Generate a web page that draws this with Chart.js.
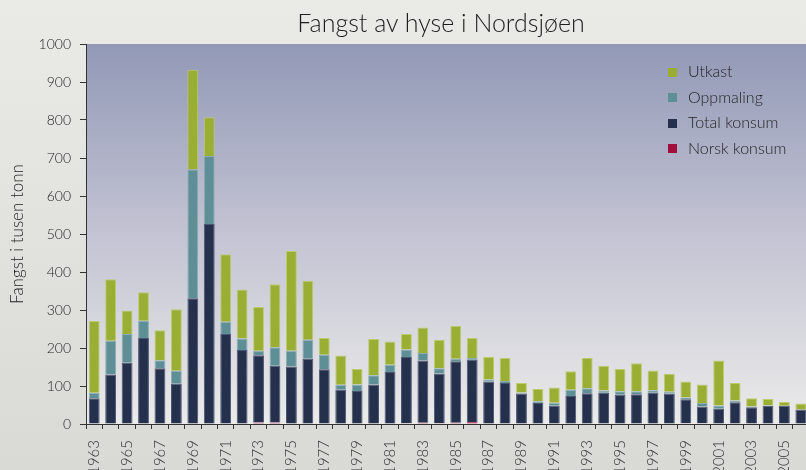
<!DOCTYPE html>
<html>
<head>
<meta charset="utf-8">
<script src="https://cdn.jsdelivr.net/npm/chart.js@4"></script>
<style>
  html, body { margin: 0; padding: 0; overflow: hidden; }
  body { width: 806px; height: 470px; background: linear-gradient(#eaeae6, #d9d9d5); font-family: Lato, "Open Sans", sans-serif; }
  #wrap { position: relative; width: 830px; height: 470px; }
  #title { position: absolute; left: 0; width: 882px; top: 7px; text-align: center; font-size: 25px; font-weight: 300; color: #1e1e1e; }
  #legend { position: absolute; left: 668px; top: 58px; font-size: 16px; font-weight: 300; color: #222; }
  #legend div { height: 25.5px; display: flex; align-items: center; }
  #legend span.box { display: inline-block; width: 9px; height: 9px; margin-right: 11px; margin-top: 3px; }
</style>
</head>
<body>
<div id="wrap">
  <canvas id="chart"></canvas>
  <div id="title">Fangst av hyse i Nordsjøen</div>
  <div id="legend"></div>
</div>
<script>
// Catch of haddock in the North Sea, thousand tonnes
const years = [1963, 1964, 1965, 1966, 1967, 1968, 1969, 1970, 1971, 1972, 1973, 1974, 1975, 1976, 1977,
    1978, 1979, 1980, 1981, 1982, 1983, 1984, 1985, 1986, 1987, 1988, 1989, 1990, 1991, 1992, 1993,
    1994, 1995, 1996, 1997, 1998, 1999, 2000, 2001, 2002, 2003, 2004, 2005, 2006];

const norskKonsum = [0, 0, 0, 0, 0, 0, 0, 0, 0, 0, 4, 4, 0, 0, 0,
    0, 0, 1, 1, 2, 3, 2, 3, 5, 1, 1, 0, 0, 0, 0, 0,
    0, 0, 0, 0, 1, 2, 2, 0, 0, 0, 0, 0, 0];

const totalKonsum = [68, 130, 161, 226, 147, 106, 331, 526, 237, 195, 177, 149, 151, 172, 144,
    90, 87, 103, 136, 174, 164, 131, 162, 164, 110, 107, 80, 55, 48, 74, 81,
    82, 77, 78, 82, 79, 63, 44, 40, 57, 44, 48, 48, 38];

const oppmaling = [14, 89, 76, 46, 21, 34, 339, 179, 32, 30, 12, 49, 42, 50, 38,
    13, 17, 24, 19, 20, 20, 14, 7, 5, 6, 5, 3, 5, 8, 16, 13,
    6, 9, 8, 7, 5, 5, 9, 9, 5, 2, 1, 0, 0];

const utkast = [189, 162, 62, 75, 79, 162, 262, 102, 178, 129, 115, 166, 262, 155, 44,
    77, 41, 96, 61, 41, 67, 75, 86, 52, 59, 61, 25, 32, 40, 49, 80,
    65, 59, 74, 52, 47, 42, 49, 118, 46, 22, 17, 10, 16];

const yTicks = [0, 100, 200, 300, 400, 500, 600, 700, 800, 900, 1000];

// bottom of the stack first
const series = [
    { label: 'Norsk konsum', data: norskKonsum, color: '#a10f3c', edge: '#c0466a' },
    { label: 'Total konsum', data: totalKonsum, color: '#24304c', edge: '#4b5672' },
    { label: 'Oppmaling', data: oppmaling, color: '#5f8f96', edge: '#8aaeb2' },
    { label: 'Utkast', data: utkast, color: '#9bae34', edge: '#bccb6e' }
];

// gradient behind the bars
const plotBackground = {
    id: 'plotBackground',
    beforeDraw(chart) {
        const { ctx, chartArea } = chart;
        const g = ctx.createLinearGradient(0, chartArea.top, 0, chartArea.bottom);
        g.addColorStop(0, '#9299b6');
        g.addColorStop(0.5, '#c3c3d3');
        g.addColorStop(1, '#ebebea');
        ctx.save();
        ctx.fillStyle = g;
        ctx.fillRect(chartArea.left, chartArea.top, chartArea.right - chartArea.left, chartArea.bottom - chartArea.top);
        ctx.restore();
    }
};

Chart.defaults.font.family = 'Lato, "Open Sans", sans-serif';
Chart.defaults.font.weight = 300;

new Chart(document.getElementById('chart'), {
    type: 'bar',
    data: {
        labels: years,
        datasets: series.map(s => ({
            label: s.label,
            data: s.data,
            backgroundColor: s.color,
            borderColor: s.edge,
            borderWidth: 1,
            categoryPercentage: 1,
            barPercentage: 0.66
        }))
    },
    options: {
        responsive: true,
        maintainAspectRatio: false,
        animation: false,
        layout: { padding: { top: 44, right: 14, left: 0, bottom: 0 } },
        plugins: {
            legend: { display: false },
            tooltip: { enabled: false }
        },
        scales: {
            x: {
                stacked: true,
                afterFit: (scale) => { scale.height = 46; },
                grid: { drawOnChartArea: false, drawTicks: true, tickLength: 5, color: '#333', offset: true },
                border: { display: true, color: '#333' },
                ticks: {
                    autoSkip: false,
                    minRotation: 90,
                    maxRotation: 90,
                    padding: 11,
                    color: '#333',
                    font: { size: 15 },
                    callback: (v, i) => (i % 2 === 0 ? years[i] : '')
                }
            },
            y: {
                stacked: true,
                min: 0,
                max: 1000,
                afterFit: (scale) => { scale.width = 86; },
                afterBuildTicks: (scale) => { scale.ticks = yTicks.map(v => ({ value: v })); },
                grid: { drawOnChartArea: false, drawTicks: true, tickLength: 6, color: '#333' },
                border: { display: true, color: '#333' },
                ticks: { padding: 9, color: '#222', font: { size: 14 }, callback: (v) => String(v) },
                title: {
                    display: true,
                    text: 'Fangst i tusen tonn',
                    color: '#222',
                    font: { size: 17 },
                    padding: { top: 7, bottom: 0 }
                }
            }
        }
    },
    plugins: [plotBackground]
});

// legend, top item = top of stack
const legendEl = document.getElementById('legend');
series.slice().reverse().forEach(s => {
    const row = document.createElement('div');
    row.innerHTML = '<span class="box" style="background:' + s.color + '"></span>' + s.label;
    legendEl.appendChild(row);
});
</script>
</body>
</html>
